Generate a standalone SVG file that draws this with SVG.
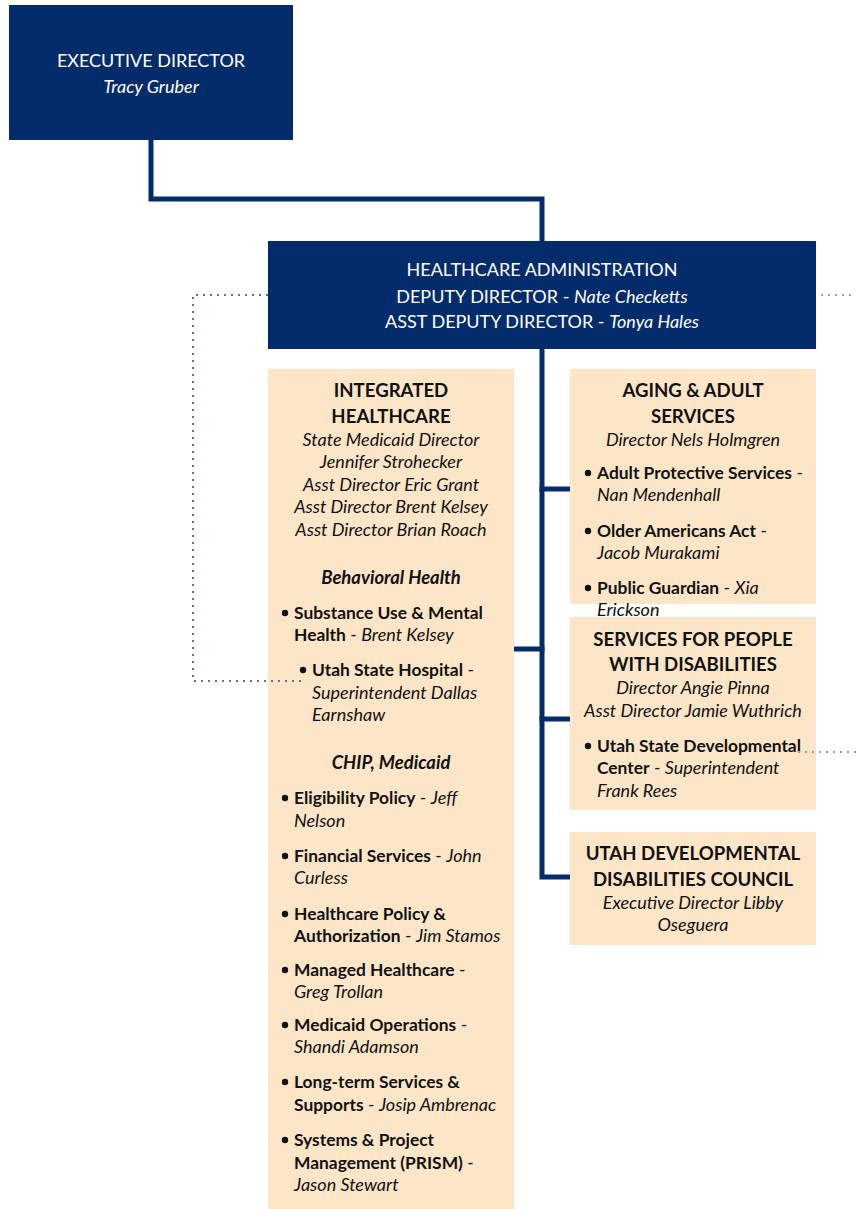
<svg xmlns="http://www.w3.org/2000/svg" width="856" height="1209" viewBox="0 0 856 1209">
<style>
.navy{fill:#042c6a}
.peach{fill:#fde6c7}
.w{fill:#ffffff;font-family:Lato,"Open Sans",sans-serif;font-size:18px;text-anchor:middle}
.t{fill:#111111;font-family:Lato,"Open Sans",sans-serif;font-size:17.4px}
.c{text-anchor:middle}
.h{font-weight:bold;font-size:18.6px}
.b{font-weight:bold}
.i{font-style:italic;font-size:18px}
.bi{font-weight:bold;font-style:italic;font-size:18.4px}
.conn{fill:none;stroke:#042c6a;stroke-width:5;stroke-linecap:square}
.dot{fill:none;stroke:#5c6f98;stroke-width:2;stroke-dasharray:2 5}
.dotg{fill:none;stroke:#9a9a9a;stroke-width:2;stroke-dasharray:2 5}
</style>
<rect width="856" height="1209" fill="#ffffff"/>
<g id="connectors">
<path class="conn" d="M151,140 V199 H542 V241"/>
<path class="conn" d="M542,349 V877 H570"/>
<path class="conn" d="M542,489 H570"/>
<path class="conn" d="M514,649 H542"/>
<path class="conn" d="M542,719 H570"/>
</g>
<g id="executive-director">
<rect class="navy" x="9" y="5" width="284" height="135"/>
<text class="w" x="151" y="67">EXECUTIVE DIRECTOR</text>
<text class="w i" x="151" y="93">Tracy Gruber</text>
</g>
<g id="healthcare-administration">
<rect class="navy" x="268" y="241" width="548" height="108"/>
<text class="w" x="542" y="276">HEALTHCARE ADMINISTRATION</text>
<text class="w" x="542" y="303">DEPUTY DIRECTOR - <tspan class="i">Nate Checketts</tspan></text>
<text class="w" x="542" y="328">ASST DEPUTY DIRECTOR - <tspan class="i">Tonya Hales</tspan></text>
</g>
<g id="integrated-healthcare">
<rect class="peach" x="268" y="369" width="246" height="840"/>
<text class="t c h" x="391" y="397">INTEGRATED</text>
<text class="t c h" x="391" y="423">HEALTHCARE</text>
<text class="t c i" x="391" y="446">State Medicaid Director</text>
<text class="t c i" x="391" y="468">Jennifer Strohecker</text>
<text class="t c i" x="391" y="491">Asst Director Eric Grant</text>
<text class="t c i" x="391" y="513">Asst Director Brent Kelsey</text>
<text class="t c i" x="391" y="536">Asst Director Brian Roach</text>
<text class="t c bi" x="391" y="584">Behavioral Health</text>
<circle cx="285" cy="613" r="3.2" fill="#111"/>
<text class="t b" x="294" y="619">Substance Use &amp; Mental</text>
<text class="t" x="294" y="641"><tspan class="b">Health</tspan> - <tspan class="i">Brent Kelsey</tspan></text>
<circle cx="303" cy="670" r="3.2" fill="#111"/>
<text class="t" x="312" y="676"><tspan class="b">Utah State Hospital</tspan> -</text>
<text class="t i" x="312" y="699">Superintendent Dallas</text>
<text class="t i" x="312" y="721">Earnshaw</text>
<text class="t c bi" x="391" y="769">CHIP, Medicaid</text>
<circle cx="285" cy="798" r="3.2" fill="#111"/>
<text class="t" x="294" y="804"><tspan class="b">Eligibility Policy</tspan> - <tspan class="i">Jeff</tspan></text>
<text class="t i" x="294" y="827">Nelson</text>
<circle cx="285" cy="856" r="3.2" fill="#111"/>
<text class="t" x="294" y="862"><tspan class="b">Financial Services</tspan> - <tspan class="i">John</tspan></text>
<text class="t i" x="294" y="884">Curless</text>
<circle cx="285" cy="914" r="3.2" fill="#111"/>
<text class="t b" x="294" y="920">Healthcare Policy &amp;</text>
<text class="t" x="294" y="942"><tspan class="b">Authorization</tspan> - <tspan class="i">Jim Stamos</tspan></text>
<circle cx="285" cy="970" r="3.2" fill="#111"/>
<text class="t" x="294" y="976"><tspan class="b">Managed Healthcare</tspan> -</text>
<text class="t i" x="294" y="998">Greg Trollan</text>
<circle cx="285" cy="1025" r="3.2" fill="#111"/>
<text class="t" x="294" y="1031"><tspan class="b">Medicaid Operations</tspan> -</text>
<text class="t i" x="294" y="1053">Shandi Adamson</text>
<circle cx="285" cy="1082" r="3.2" fill="#111"/>
<text class="t b" x="294" y="1088">Long-term Services &amp;</text>
<text class="t" x="294" y="1111"><tspan class="b">Supports</tspan> - <tspan class="i">Josip Ambrenac</tspan></text>
<circle cx="285" cy="1140" r="3.2" fill="#111"/>
<text class="t b" x="294" y="1146">Systems &amp; Project</text>
<text class="t" x="294" y="1169"><tspan class="b">Management (PRISM)</tspan> -</text>
<text class="t i" x="294" y="1191">Jason Stewart</text>
</g>
<g id="aging-adult-services">
<rect class="peach" x="570" y="369" width="246" height="235"/>
<text class="t c h" x="693" y="397">AGING &amp; ADULT</text>
<text class="t c h" x="693" y="423">SERVICES</text>
<text class="t c i" x="693" y="446">Director Nels Holmgren</text>
<circle cx="588" cy="473" r="3.2" fill="#111"/>
<text class="t" x="597" y="479"><tspan class="b">Adult Protective Services</tspan> -</text>
<text class="t i" x="597" y="501">Nan Mendenhall</text>
<circle cx="588" cy="531" r="3.2" fill="#111"/>
<text class="t" x="597" y="537"><tspan class="b">Older Americans Act</tspan> -</text>
<text class="t i" x="597" y="559">Jacob Murakami</text>
<circle cx="588" cy="588" r="3.2" fill="#111"/>
<text class="t" x="597" y="594"><tspan class="b">Public Guardian</tspan> - <tspan class="i">Xia</tspan></text>
<text class="t i" x="597" y="616">Erickson</text>
</g>
<g id="services-people-disabilities">
<rect class="peach" x="570" y="617" width="246" height="193"/>
<text class="t c h" x="693" y="646">SERVICES FOR PEOPLE</text>
<text class="t c h" x="693" y="671">WITH DISABILITIES</text>
<text class="t c i" x="693" y="694">Director Angie Pinna</text>
<text class="t c i" x="693" y="717">Asst Director Jamie Wuthrich</text>
<circle cx="588" cy="746" r="3.2" fill="#111"/>
<text class="t b" x="597" y="752">Utah State Developmental</text>
<text class="t" x="597" y="774"><tspan class="b">Center</tspan> - <tspan class="i">Superintendent</tspan></text>
<text class="t i" x="597" y="797">Frank Rees</text>
</g>
<g id="utah-dd-council">
<rect class="peach" x="570" y="832" width="246" height="113"/>
<text class="t c h" x="693" y="860">UTAH DEVELOPMENTAL</text>
<text class="t c h" x="693" y="886">DISABILITIES COUNCIL</text>
<text class="t c i" x="693" y="909">Executive Director Libby</text>
<text class="t c i" x="693" y="931">Oseguera</text>
</g>
<g id="dotted-connectors">
<path class="dot" d="M268,295 H193 V681 H306"/>
<path class="dotg" d="M821,295 H856"/>
<path class="dotg" d="M798,752 H856"/>
</g>
</svg>
